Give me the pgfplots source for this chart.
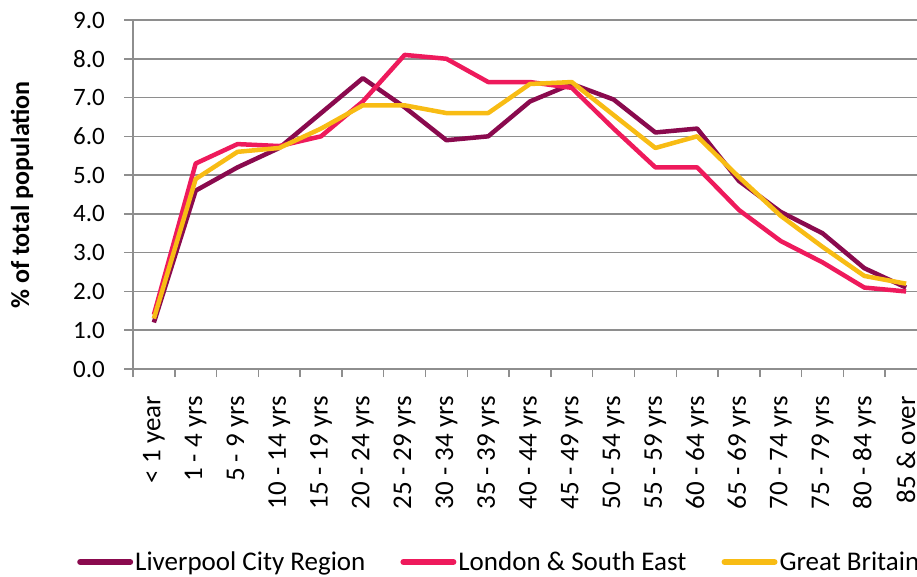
\documentclass[border=0pt]{standalone}
\usepackage{pgfplots}
\pgfplotsset{compat=1.18}
\usepackage{fontspec}
\setmainfont{Carlito}
\definecolor{lcr}{HTML}{8A0A4E}
\definecolor{lse}{HTML}{EE1A5C}
\definecolor{gbr}{HTML}{F8BC14}
\definecolor{gridc}{HTML}{8E8E8E}
\begin{document}
\begin{tikzpicture}
\begin{axis}[
  scale only axis,
  width=794pt, height=349pt,
  xmin=-0.5, xmax=18.5,
  ymin=0, ymax=9,
  axis x line*=bottom, axis y line*=left,
  axis line style={gridc, line width=1.5pt},
  ytick={0,1,...,9},
  ymajorgrids,
  major grid style={gridc, line width=1.5pt},
  xtick={0,...,18},
  xticklabels={{< 1 year},{1 - 4 yrs},{5 - 9 yrs},{10 - 14 yrs},{15 - 19 yrs},{20 - 24 yrs},{25 - 29 yrs},{30 - 34 yrs},{35 - 39 yrs},{40 - 44 yrs},{45 - 49 yrs},{50 - 54 yrs},{55 - 59 yrs},{60 - 64 yrs},{65 - 69 yrs},{70 - 74 yrs},{75 - 79 yrs},{80 - 84 yrs},{85 \& over}},
  minor xtick={-0.5,0.5,...,18.5},
  x tick style={draw=none},
  minor x tick style={draw=gridc, line width=1.5pt},
  y tick style={draw=gridc, line width=1.5pt},
  tick align=outside,
  major tick length=9pt,
  minor tick length=8pt,
  /pgf/number format/assume math mode=true,
  yticklabel style={/pgf/number format/.cd, fixed, fixed zerofill, precision=1, /tikz/.cd, font=\fontsize{25}{29}\selectfont, anchor=east, inner sep=0pt, xshift=-19pt},
  xticklabel style={yshift=-18pt, font=\fontsize{27}{31}\selectfont, rotate=90, anchor=east, inner sep=0pt},
  legend columns=3,
  legend style={at={(axis description cs:0,0)}, anchor=west, xshift=-56pt, yshift=-193pt,
    draw=none, fill=none, inner sep=0pt, font=\fontsize{27}{31}\selectfont,
    nodes={inner sep=2pt},
    /tikz/every even column/.append style={column sep=33pt}},
  legend image code/.code={\draw[#1, line width=6pt, line cap=round] (0pt,0pt) -- (50pt,0pt);},
  every axis plot/.append style={line width=4.5pt, line join=round},
]
\addplot[lcr] coordinates {(0,1.2) (1,4.6) (2,5.2) (3,5.7) (4,6.6) (5,7.5) (6,6.75) (7,5.9) (8,6.0) (9,6.9) (10,7.35) (11,6.95) (12,6.1) (13,6.2) (14,4.85) (15,4.05) (16,3.5) (17,2.6) (18,2.1)};
\addlegendentry{Liverpool City Region}
\addplot[lse] coordinates {(0,1.4) (1,5.3) (2,5.8) (3,5.75) (4,6.0) (5,6.9) (6,8.1) (7,8.0) (8,7.4) (9,7.4) (10,7.25) (11,6.2) (12,5.2) (13,5.2) (14,4.1) (15,3.3) (16,2.75) (17,2.1) (18,2.0)};
\addlegendentry{London \& South East}
\addplot[gbr] coordinates {(0,1.3) (1,4.9) (2,5.6) (3,5.7) (4,6.2) (5,6.8) (6,6.8) (7,6.6) (8,6.6) (9,7.35) (10,7.4) (11,6.55) (12,5.7) (13,6.0) (14,4.95) (15,3.95) (16,3.15) (17,2.4) (18,2.2)};
\addlegendentry{Great Britain}
\end{axis}
\node[rotate=90, font=\fontsize{26}{30}\selectfont\bfseries] at (-111pt,174pt) {\% of total population};
\pgfresetboundingbox
\useasboundingbox (-133pt,-207pt) rectangle (784pt,369pt);
\end{tikzpicture}
\end{document}
